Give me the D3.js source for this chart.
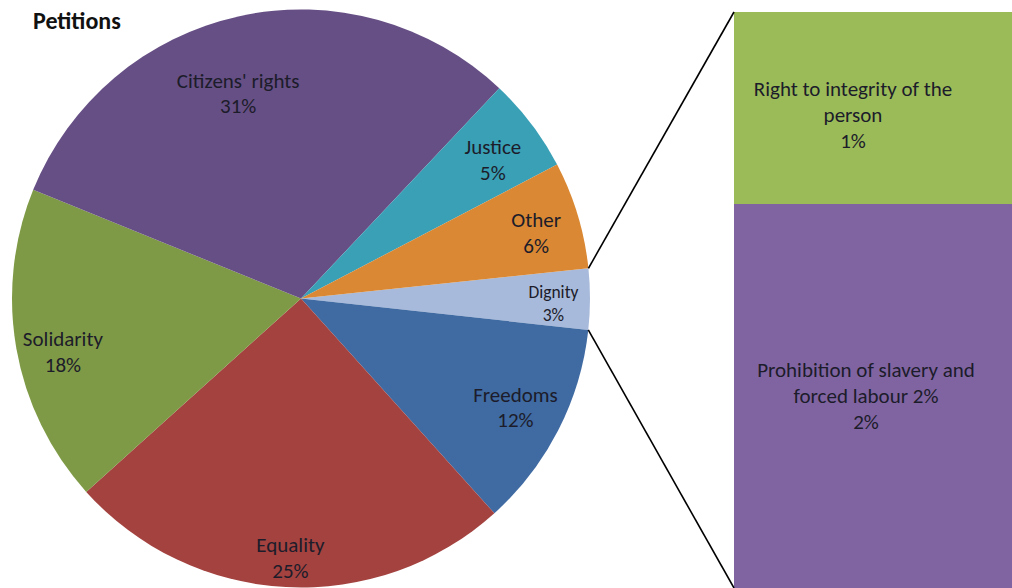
<!DOCTYPE html>
<html><head><meta charset="utf-8">
<script src="https://cdn.jsdelivr.net/npm/d3@7"></script>
<style>body{margin:0;background:#fff}svg{display:block}text{font-family:Carlito,Calibri,Lato,sans-serif}</style>
</head><body>
<svg id="c" width="1012" height="588"></svg>
<script>
const title = "Petitions";
const categories = ["Dignity", "Freedoms", "Equality", "Solidarity", "Citizens' rights", "Justice", "Other"];
const values = [3.4, 11.6, 25.0, 17.8, 30.9, 5.3, 6.0];
const colors = ["#A8BADB", "#3F6AA2", "#A3423F", "#7F9A46", "#664F85", "#3AA0B6", "#DA8833"];
const subCategories = ["Right to integrity of the person", "Prohibition of slavery and forced labour 2%"];
const subValues = [1, 2];
const subColors = ["#9BBB59", "#8064A2"];
const subLines = [["Right to integrity of the", "person"], ["Prohibition of slavery and", "forced labour 2%"]];

const svg = d3.select("#c");
const cx = 301, cy = 298.5, R = 289;
const startA = 84 * Math.PI / 180;

svg.append("text").attr("x", 33).attr("y", 29).attr("font-size", 24).attr("font-weight", "bold")
  .attr("fill", "#111").text(title);

const pie = d3.pie().sort(null).value(d => d.v).startAngle(startA).endAngle(startA + 2 * Math.PI);
const arcs = pie(categories.map((c, i) => ({c, v: values[i], col: colors[i]})));
const arc = d3.arc().innerRadius(0).outerRadius(R);
const g = svg.append("g").attr("transform", `translate(${cx},${cy})`);
g.selectAll("path").data(arcs).join("path").attr("d", arc).attr("fill", d => d.data.col);

const labelK = [0.87, 0.83, 0.90, 0.84, 0.76, 0.82, 0.85];
const nudge = [[1, 1], [1, -5], [3, -5], [1, 7], [-16, 5], [3, 0], [0, 1]];
arcs.forEach((d, i) => {
  const la = d3.arc().innerRadius(R * labelK[i]).outerRadius(R * labelK[i]);
  let [x, y] = la.centroid(d);
  x += nudge[i][0]; y += nudge[i][1];
  const small = d.data.c === "Dignity";
  const fs = small ? 17.5 : 21, lh = small ? 23 : 25.5;
  const t = g.append("text").attr("text-anchor", "middle").attr("font-size", fs).attr("fill", "#1c1c2a");
  t.append("tspan").attr("x", x).attr("y", y - lh / 2 + fs * 0.55).text(d.data.c);
  t.append("tspan").attr("x", x).attr("y", y + lh / 2 + fs * 0.55).text(Math.round(d.data.v) + "%");
});

// bar of pie
const barX = 734, barW = 300;
const y = d3.scaleLinear().domain([0, d3.sum(subValues)]).range([12, 588]);
let acc = 0;
const segs = subValues.map((v, i) => { const s = {v, i, y0: acc, y1: acc + v}; acc += v; return s; });
svg.selectAll("rect.bar").data(segs).join("rect").attr("class", "bar")
  .attr("x", barX).attr("width", barW)
  .attr("y", d => y(d.y0)).attr("height", d => y(d.y1) - y(d.y0))
  .attr("fill", d => subColors[d.i]);

const textCx = [853, 866];
const firstBase = [96, 377];
segs.forEach(s => {
  const t = svg.append("text").attr("text-anchor", "middle").attr("font-size", 21).attr("fill", "#1c1c2a");
  const lines = subLines[s.i].concat([s.v + "%"]);
  lines.forEach((l, k) => t.append("tspan").attr("x", textCx[s.i]).attr("y", firstBase[s.i] + k * 25.8).text(l));
});

// connector lines
const dig = arcs[0];
const p = a => [cx + R * Math.sin(a), cy - R * Math.cos(a)];
const p0 = p(dig.startAngle), p1 = p(dig.endAngle);
svg.append("line").attr("x1", p0[0]).attr("y1", p0[1]).attr("x2", barX).attr("y2", y(0))
  .attr("stroke", "#000").attr("stroke-width", 1.6);
svg.append("line").attr("x1", p1[0]).attr("y1", p1[1]).attr("x2", barX).attr("y2", y(d3.sum(subValues)))
  .attr("stroke", "#000").attr("stroke-width", 1.6);
</script>
</body></html>
